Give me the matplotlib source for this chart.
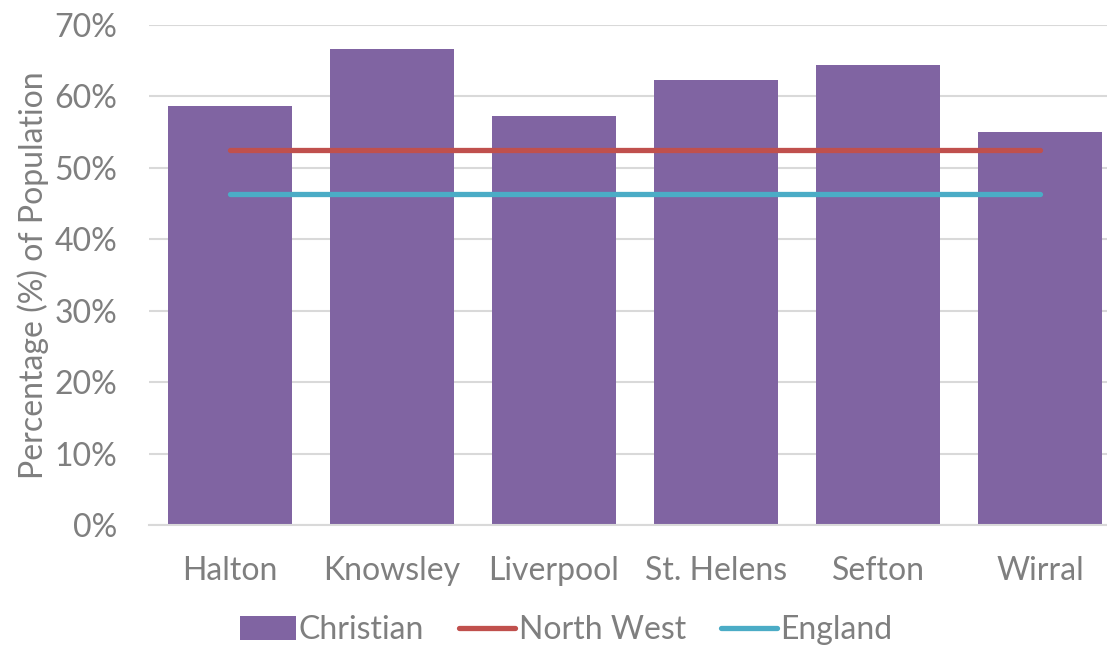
import matplotlib.pyplot as plt
import numpy as np

# Share of population identifying as Christian, by local authority
areas = ["Halton", "Knowsley", "Liverpool", "St. Helens", "Sefton", "Wirral"]
christian = [58.7, 66.7, 57.3, 62.3, 64.4, 55.0]
north_west = [52.5] * 6
england = [46.4] * 6

plt.rcParams["font.family"] = ["Lato", "DejaVu Sans"]
grey = "#7F7F7F"
fs = 23

fig = plt.figure(figsize=(11.07, 6.46), dpi=100)
# axes span a little past the right edge, like the clipped original
ax = fig.add_axes([149 / 1107, 1 - 525 / 646, 972 / 1107, 500 / 646])

x = np.arange(len(areas))
bars = ax.bar(x, christian, width=0.765, color="#8064A2", label="Christian", zorder=2)
nw, = ax.plot(x, north_west, color="#C0504D", lw=3.8, solid_capstyle="round",
              label="North West", zorder=3)
en, = ax.plot(x, england, color="#4BACC6", lw=3.8, solid_capstyle="round",
              label="England", zorder=3)

ax.set_xlim(-0.5, len(areas) - 0.5)
ax.set_ylim(0, 70)
ax.set_yticks(range(0, 71, 10))
ax.set_yticklabels([f"{v}%" for v in range(0, 71, 10)])
ax.set_xticks(x)
ax.set_xticklabels(areas)
ax.yaxis.grid(True, color="#D9D9D9", lw=1.5, zorder=0)
ax.set_axisbelow(True)
for s in ["top", "right", "left"]:
    ax.spines[s].set_visible(False)
ax.spines["bottom"].set_color("#D9D9D9")
ax.spines["bottom"].set_linewidth(1.5)
ax.tick_params(axis="both", length=0, labelsize=fs, labelcolor=grey)
ax.tick_params(axis="y", pad=23)
ax.tick_params(axis="x", pad=22)
ax.set_ylabel("Percentage (%) of Population", fontsize=fs, color=grey, labelpad=4)

fig.legend([bars, nw, en], ["Christian", "North West", "England"],
           loc="center", bbox_to_anchor=(566 / 1107, 1 - 630 / 646), ncol=3,
           frameon=False, fontsize=fs, labelcolor=grey, handlelength=1.75,
           handletextpad=0.1, columnspacing=1.1, handleheight=0.75)

fig.savefig("out.png", dpi=100)
